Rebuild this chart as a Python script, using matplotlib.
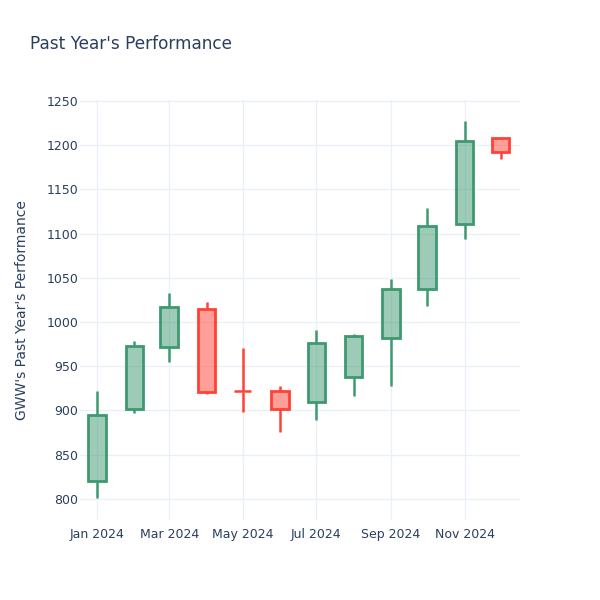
import matplotlib.pyplot as plt
import matplotlib.dates as mdates
import numpy as np
from datetime import datetime, timedelta

dates = [datetime(2024, m, 1) for m in range(1, 13)]
opens = [820, 901, 972, 1015, 922, 922, 909, 938, 982, 1037, 1111, 1208]
highs = [922, 979, 1033, 1022, 971, 927, 991, 986, 1049, 1129, 1227, 1208]
lows = [801, 897, 955, 918, 898, 876, 889, 916, 927, 1018, 1094, 1184]
closes = [895, 973, 1017, 921, 921, 902, 976, 984, 1037, 1109, 1205, 1192]

inc_color = "#3D9970"
dec_color = "#FF4136"
grid_color = "#EBF0F8"
text_color = "#2a3f5f"

fig = plt.figure(figsize=(6, 6), dpi=100)
ax = fig.add_axes([80/600, 80/600, 440/600, 420/600])

width = timedelta(days=14.5)
for d, o, h, l, c in zip(dates, opens, highs, lows, closes):
    col = inc_color if c > o else dec_color
    top, bot = max(o, c), min(o, c)
    x = mdates.date2num(d)
    w = width.days + width.seconds / 86400
    ax.vlines(x, top, h, color=col, lw=1.8, zorder=3)
    ax.vlines(x, l, bot, color=col, lw=1.8, zorder=3)
    if top - bot < 2:
        ax.hlines(o, x - w / 2, x + w / 2, color=col, lw=1.8, zorder=3)
    else:
        ax.add_patch(plt.Rectangle((x - w / 2, bot), w, top - bot,
                                   facecolor=col, alpha=0.5, lw=0, zorder=2))
        ax.add_patch(plt.Rectangle((x - w / 2, bot), w, top - bot,
                                   facecolor="none", edgecolor=col, lw=2, zorder=3))

ax.set_xlim(datetime(2023, 12, 18), datetime(2024, 12, 17))
ax.set_ylim(776, 1251)
ax.set_yticks(np.arange(800, 1251, 50))
ax.set_xticks([datetime(2024, m, 1) for m in (1, 3, 5, 7, 9, 11)])
ax.xaxis.set_major_formatter(mdates.DateFormatter("%b %Y"))

for s in ax.spines.values():
    s.set_visible(False)
ax.grid(True, color=grid_color, lw=1)
ax.set_axisbelow(True)
ax.tick_params(length=0, labelsize=9, colors=text_color)
ax.tick_params(axis="x", pad=6)
ax.tick_params(axis="y", pad=1)

ax.set_ylabel("GWW's Past Year's Performance", fontsize=10, color=text_color, labelpad=13)
fig.text(30/600, 1 - 44/600, "Past Year's Performance", fontsize=12.2,
         color=text_color, va="center", ha="left")

fig.savefig("out.png", dpi=100, facecolor="white")
